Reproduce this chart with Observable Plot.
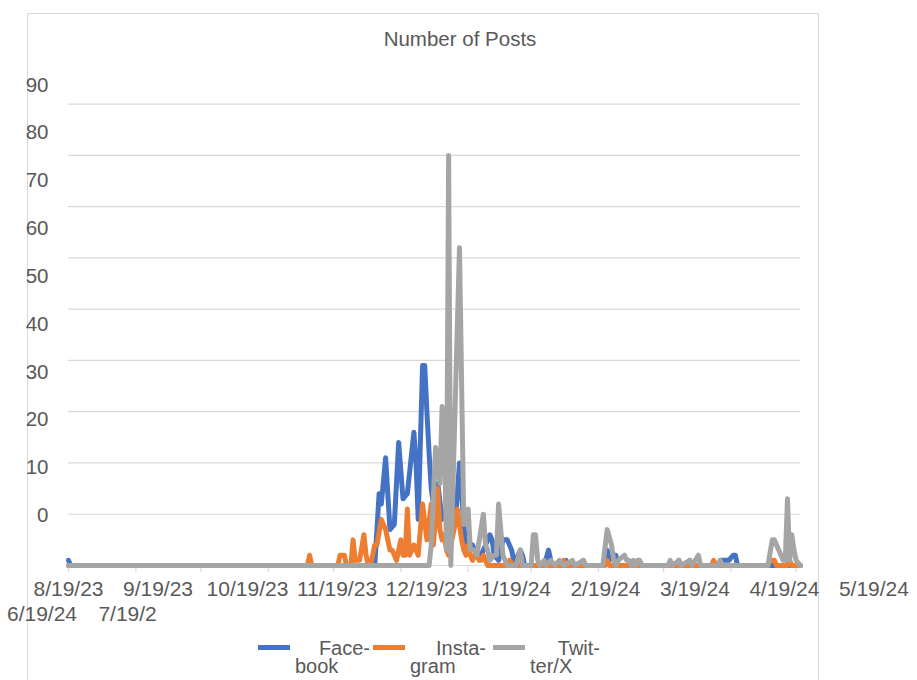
<!DOCTYPE html>
<html><head><meta charset="utf-8">
<script src="https://cdn.jsdelivr.net/npm/d3@7"></script>
<script src="https://cdn.jsdelivr.net/npm/@observablehq/plot@0.6"></script>
<style>
body{margin:0;background:#fff;}
#wrap{position:relative;width:917px;height:680px;overflow:hidden;background:#fff;font-family:"Liberation Sans",Arial,sans-serif;color:#595959;}
#frame{position:absolute;left:27px;top:13px;width:792px;height:720px;border:1px solid #d9d9d9;box-sizing:border-box;}
#title{position:absolute;left:0;width:920px;top:27px;text-align:center;font-size:20.5px;line-height:24px;}
#chart{position:absolute;left:0;top:0;}
.sw{position:absolute;top:644.5px;width:32px;height:5px;}
.l1,.l2{position:absolute;font-size:20px;line-height:18px;white-space:nowrap;}
.l1{top:639px;text-align:right;}
.l2{top:657px;text-align:left;}
</style></head>
<body>
<div id="wrap">
  <div id="frame"></div>
  <div id="chart"></div>
  <div id="title">Number of Posts</div>
  <div id="legend"></div>
</div>
<script>
// ---- data (day offset from start date, value) ----
const startDate = "2023-08-19";
const seriesNames = ["Facebook", "Instagram", "Twitter/X"];
const seriesColors = ["#4472C4", "#ED7D31", "#A5A5A5"];
const legendLines = [["Face-", "book"], ["Insta-", "gram"], ["Twit-", "ter/X"]];

const facebookPts = [
[0,1],[1,0],[141,0],[143,14],[144,12],[146,21],[148,7],[150,8],[152,24],[154,13],[156,14],[159,26],[160,20],[161,9],
[163,39],[164,39],[165,30],[166,22],[167,15],[168,12],[170,16],[172,9],[174,11],[176,6],[178,8],[180,20],[182,8],
[183,3],[184,3],[186,4],[188,2],[190,2],[192,4],[194,6],[195,5],[196,2],[198,1],[200,5],[202,5],[204,3],[205,1],
[206,1],[208,3],[209,2],[210,0],[219,0],[221,3],[222,1],[223,0],[228,0],[229,1],[230,0],[236,0],[237,1],[238,0],
[246,0],[248,3],[249,1],[251,2],[252,2],[253,0],[280,0],[281,1],[282,0],[285,0],[286,1],[287,0],[299,0],[300,1],
[302,1],[304,1],[306,2],[307,2],[308,0],[337,0]
];
const instagramPts = [
[0,0],[110,0],[111,2],[112,0],[124,0],[125,2],[127,2],[128,0],[130,0],[131,5],[132,1],[134,1],[136,6],[137,2],
[138,0],[139,0],[141,4],[142,4],[144,9],[146,7],[148,3],[149,3],[151,1],[153,5],[154,2],[155,2],[156,11],[157,2],
[159,4],[161,2],[163,12],[165,5],[167,12],[168,4],[170,15],[171,7],[172,5],[173,6],[174,3],[175,2],[176,4],[177,6],
[178,8],[179,11],[180,8],[181,5],[182,3],[183,2],[184,4],[185,2],[186,1],[187,2],[188,2],[189,1],[190,1],[191,2],
[192,1],[193,0],[202,0],[203,1],[205,0],[227,0],[228,1],[229,0],[247,0],[248,1],[249,0],[296,0],[297,1],[298,0],
[322,0],[323,1],[325,1],[326,0],[331,0],[332,1],[333,0],[337,0]
];
const twitterPts = [
[0,0],[166,0],[167,4],[169,23],[171,16],[172,31],[173,28],[174,3],[175,80],[176,0],[180,62],[182,8],[184,11],
[185,3],[187,3],[188,2],[191,10],[192,4],[193,3],[194,1],[196,2],[197,2],[198,12],[200,2],[201,1],[202,0],[206,0],
[208,3],[209,0],[213,0],[214,6],[215,6],[216,1],[217,0],[219,1],[220,0],[222,1],[224,0],[226,1],[228,0],[232,1],
[233,0],[237,1],[238,0],[246,0],[248,7],[250,4],[251,1],[252,0],[253,1],[256,2],[257,1],[258,1],[259,0],[260,1],
[261,0],[262,1],[263,1],[264,0],[276,0],[277,1],[278,0],[281,1],[282,0],[286,1],[287,0],[290,2],[291,0],[299,0],
[300,1],[301,0],[322,0],[324,5],[325,5],[326,4],[329,1],[330,1],[331,13],[332,1],[333,6],[334,3],[335,1],[337,0]
];
const yGridValues = [0,10,20,30,40,50,60,70,80,90];
const yTickLabels = ["0","10","20","30","40","50","60","70","80","90"];
const xTickLabelsRow1 = ["8/19/23","9/19/23","10/19/23","11/19/23","12/19/23","1/19/24","2/19/24","3/19/24","4/19/24","5/19/24"];
const xTickLabelsRow2 = ["6/19/24","7/19/2"];
const monthTickCount = 12;
const lastDay = 337;

// ---- build ----
const start = new Date(startDate + "T00:00:00Z");
const toDate = d => new Date(start.getTime() + d * 864e5);
const allPts = [facebookPts, instagramPts, twitterPts];
const rows = allPts.flatMap((pts, k) => pts.map(([d, v]) => ({series: seriesNames[k], date: toDate(d), value: v})));
const monthTicks = d3.range(monthTickCount).map(i => d3.utcMonth.offset(start, i));
const yMax = 95;
const plotH = 635, mTop = 78, mBottom = 70;
const unitsPerPx = yMax / (plotH - mTop - mBottom);

const chart = Plot.plot({
  width: 917, height: plotH,
  marginTop: mTop, marginBottom: mBottom, marginLeft: 68, marginRight: 117,
  x: {type: "utc", domain: [toDate(0), toDate(lastDay)], axis: null},
  y: {domain: [0, yMax], axis: null},
  color: {domain: seriesNames, range: seriesColors},
  style: {fontFamily: '"Liberation Sans", Arial, sans-serif', fontSize: "21px", color: "#595959", background: "transparent", overflow: "visible"},
  marks: [
    Plot.ruleY(yGridValues, {stroke: "#d9d9d9", strokeWidth: 1.2}),
    Plot.ruleX(monthTicks, {y1: 0, y2: -7 * unitsPerPx, stroke: "#d9d9d9", strokeWidth: 1.2}),
    Plot.text(yTickLabels, {y: (d, i) => 9.76 + i * 9.33, text: d => d, frameAnchor: "left", textAnchor: "end", dx: -20, fill: "#595959", fontSize: 20.5}),
    Plot.text(xTickLabelsRow1, {x: (d, i) => toDate(i * 41.2), text: d => d, frameAnchor: "bottom", dy: 30, fill: "#595959", fontSize: 21}),
    Plot.text(xTickLabelsRow2, {x: (d, i) => toDate(-12.2 + i * 39.4), text: d => d, frameAnchor: "bottom", dy: 55, fill: "#595959", fontSize: 21}),
    Plot.line(rows, {x: "date", y: "value", z: "series", stroke: "series", strokeWidth: 5, strokeLinejoin: "round", strokeLinecap: "round"})
  ]
});
document.getElementById("chart").appendChild(chart);

// legend
const legend = document.getElementById("legend");
const swLeft = [258, 373, 493];
const boxW = [75, 76, 70];
seriesNames.forEach((name, k) => {
  const sw = document.createElement("div");
  sw.className = "sw"; sw.style.left = swLeft[k] + "px"; sw.style.background = seriesColors[k];
  sw.title = name;
  legend.appendChild(sw);
  const a = document.createElement("div");
  a.className = "l1"; a.style.left = (swLeft[k] + 37) + "px"; a.style.width = boxW[k] + "px"; a.textContent = legendLines[k][0];
  legend.appendChild(a);
  const b = document.createElement("div");
  b.className = "l2"; b.style.left = (swLeft[k] + 37) + "px"; b.style.width = boxW[k] + "px"; b.textContent = legendLines[k][1];
  legend.appendChild(b);
});
</script>
</body></html>
